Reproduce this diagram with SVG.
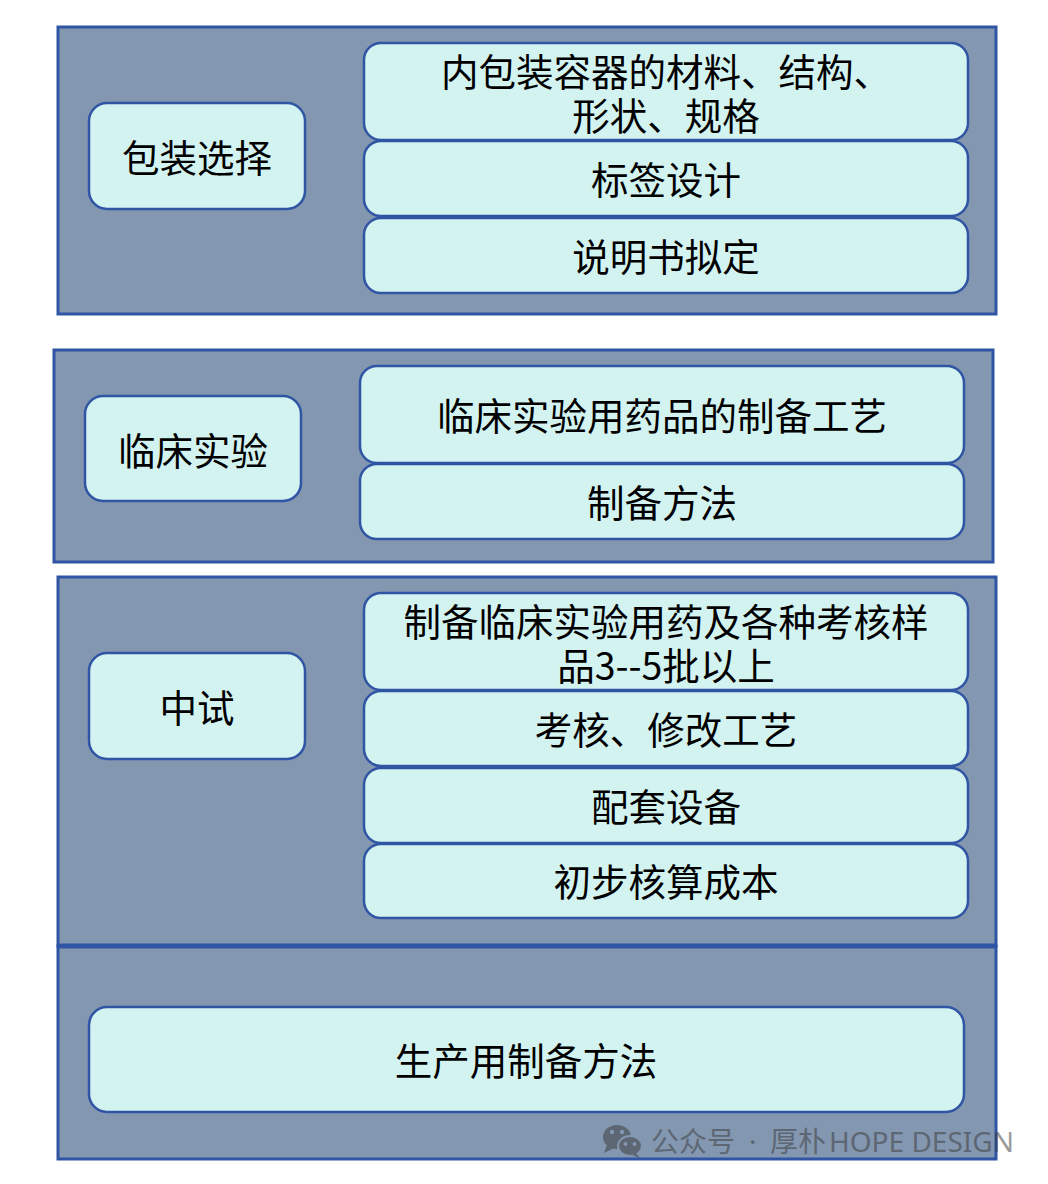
<svg xmlns="http://www.w3.org/2000/svg" width="1048" height="1184" viewBox="0 0 1048 1184">
<style>
.panel{fill:#8497b0;stroke:#2f55a4;stroke-width:3}
.box{fill:#d3f3f1;stroke:#2f55a4;stroke-width:2.5}
.t{font-family:"Noto Sans CJK SC","Noto Sans",sans-serif;font-size:37.5px;fill:#000;text-anchor:middle;dominant-baseline:central}
.wm{font-family:"Noto Sans CJK SC","Noto Sans",sans-serif;font-size:28px;fill:#373737}
.wl{font-family:"Noto Sans",sans-serif;font-size:28px}
</style>
<rect width="1048" height="1184" fill="#ffffff"/>
<g id="panel-packaging">
<rect class="panel" x="58" y="27" width="938" height="287"/>
<g id="node-packaging"><rect class="box" x="89" y="103" width="216" height="106" rx="18"/><text class="t" x="197" y="155">包装选择</text></g>
<g id="node-container"><rect class="box" x="364" y="43" width="604" height="97" rx="17"/><text class="t" x="666" y="69"><tspan x="666" y="69">内包装容器的材料、结构、</tspan><tspan x="666" y="113">形状、规格</tspan></text></g>
<g id="node-label"><rect class="box" x="364" y="141" width="604" height="75" rx="17"/><text class="t" x="666" y="177">标签设计</text></g>
<g id="node-manual"><rect class="box" x="364" y="218" width="604" height="75" rx="17"/><text class="t" x="666" y="254">说明书拟定</text></g>
</g>
<g id="panel-clinical">
<rect class="panel" x="54" y="350" width="939" height="212"/>
<g id="node-clinical"><rect class="box" x="85" y="396" width="216" height="105" rx="18"/><text class="t" x="193" y="448">临床实验</text></g>
<g id="node-process"><rect class="box" x="360" y="366" width="604" height="97" rx="17"/><text class="t" x="662" y="413">临床实验用药品的制备工艺</text></g>
<g id="node-method"><rect class="box" x="360" y="464" width="604" height="75" rx="17"/><text class="t" x="662" y="500">制备方法</text></g>
</g>
<g id="panel-pilot">
<rect class="panel" x="58" y="577" width="938" height="369"/>
<g id="node-pilot"><rect class="box" x="89" y="653" width="216" height="106" rx="18"/><text class="t" x="197" y="705">中试</text></g>
<g id="node-batches"><rect class="box" x="364" y="593" width="604" height="97" rx="17"/><text class="t" x="666" y="619"><tspan x="666" y="619">制备临床实验用药及各种考核样</tspan><tspan x="666" y="663">品3--5批以上</tspan></text></g>
<g id="node-revise"><rect class="box" x="364" y="691" width="604" height="75" rx="17"/><text class="t" x="666" y="727">考核、修改工艺</text></g>
<g id="node-equipment"><rect class="box" x="364" y="768" width="604" height="75" rx="17"/><text class="t" x="666" y="804">配套设备</text></g>
<g id="node-cost"><rect class="box" x="364" y="844" width="604" height="74" rx="17"/><text class="t" x="666" y="879">初步核算成本</text></g>
</g>
<g id="panel-production">
<rect class="panel" x="58" y="946" width="938" height="213"/>
<line x1="58" y1="946" x2="996" y2="946" stroke="#2f55a4" stroke-width="5"/>
<g id="node-production"><rect class="box" x="89" y="1007" width="875" height="105" rx="18"/><text class="t" x="526" y="1058">生产用制备方法</text></g>
</g>
<g id="watermark" opacity="0.5">
<ellipse cx="617" cy="1137" rx="14" ry="12" fill="#373737"/>
<path d="M607 1145 L604 1153 L614 1148 Z" fill="#373737"/>
<circle cx="612" cy="1132" r="2.2" fill="#8497b0"/>
<circle cx="622" cy="1132" r="2.2" fill="#8497b0"/>
<ellipse cx="630" cy="1146" rx="12" ry="10" fill="#373737" stroke="#8497b0" stroke-width="2"/>
<path d="M636 1153 L640 1158 L632 1155 Z" fill="#373737"/>
<circle cx="625.5" cy="1144" r="2" fill="#8497b0"/>
<circle cx="634.5" cy="1144" r="2" fill="#8497b0"/>
<text class="wm" y="1152"><tspan x="651">公众号</tspan><tspan x="749" class="wl">·</tspan><tspan x="770">厚朴</tspan><tspan x="829" class="wl">HOPE DESIGN</tspan></text>
</g>
</svg>
